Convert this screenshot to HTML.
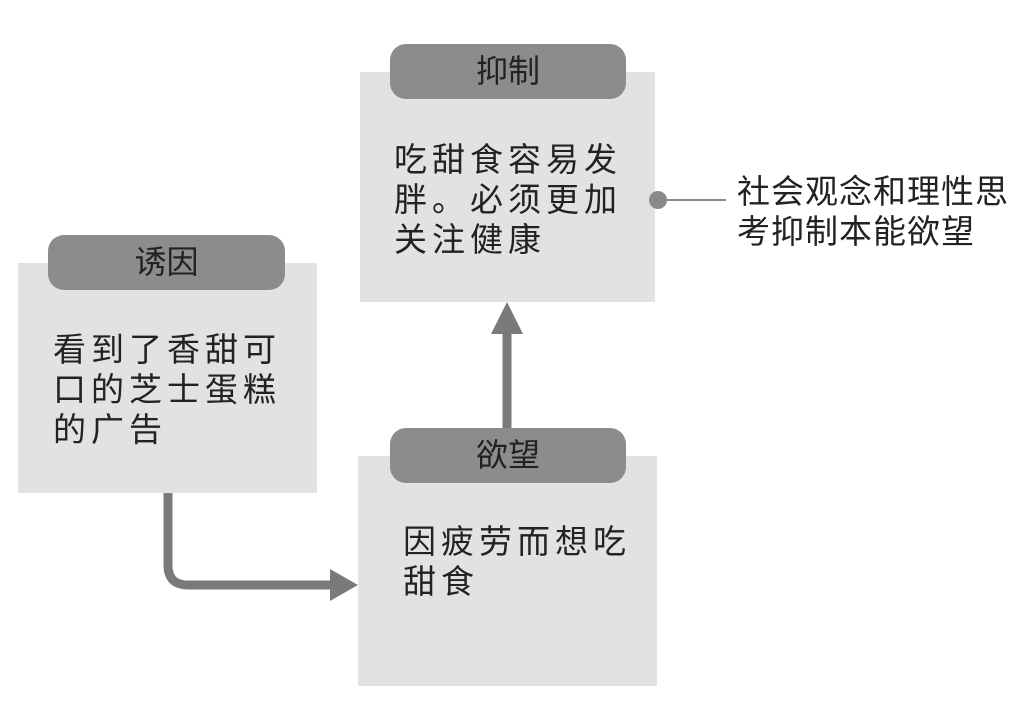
<!DOCTYPE html>
<html><head><meta charset="utf-8"><style>
body{margin:0;width:1028px;height:711px;background:#fff;position:relative;overflow:hidden;font-family:"Liberation Sans","Noto Sans CJK SC",sans-serif;color:#222}
.box{position:absolute;background:#e2e2e2}
.pill{position:absolute;background:#8c8c8c;border-radius:16px;font-size:32px;text-align:center;line-height:55px;color:#222}
.t{position:absolute;font-size:33px;line-height:40px;letter-spacing:5px;white-space:nowrap}
</style></head><body>
<div class="box" style="left:18px;top:263px;width:299px;height:230px"></div>
<div class="pill" style="left:48px;top:235px;width:237px;height:55px">诱因</div>
<div class="t" style="left:53px;top:330px">看到了香甜可<br>口的芝士蛋糕<br>的广告</div>

<div class="box" style="left:360px;top:72px;width:295px;height:230px"></div>
<div class="pill" style="left:390px;top:44px;width:236px;height:55px">抑制</div>
<div class="t" style="left:394px;top:140px">吃甜食容易发<br>胖。必须更加<br>关注健康</div>

<div class="box" style="left:358px;top:456px;width:299px;height:230px"></div>
<div class="pill" style="left:390px;top:428px;width:236px;height:55px">欲望</div>
<div class="t" style="left:403px;top:522px">因疲劳而想吃<br>甜食</div>

<div class="t" style="left:737px;top:172px;letter-spacing:1px">社会观念和理性思<br>考抑制本能欲望</div>

<svg width="1028" height="711" style="position:absolute;left:0;top:0">
<path d="M168 493 V565 Q168 585 188 585 H332" fill="none" stroke="#7a7a7a" stroke-width="9"/>
<polygon points="330,569 358,585 330,601" fill="#7a7a7a"/>
<line x1="507" y1="428" x2="507" y2="330" stroke="#7a7a7a" stroke-width="9"/>
<polygon points="491,334 507,302 523,334" fill="#7a7a7a"/>
<circle cx="658" cy="200" r="9" fill="#8a8a8a"/>
<line x1="658" y1="200" x2="726" y2="200" stroke="#888" stroke-width="2"/>
</svg>
</body></html>
